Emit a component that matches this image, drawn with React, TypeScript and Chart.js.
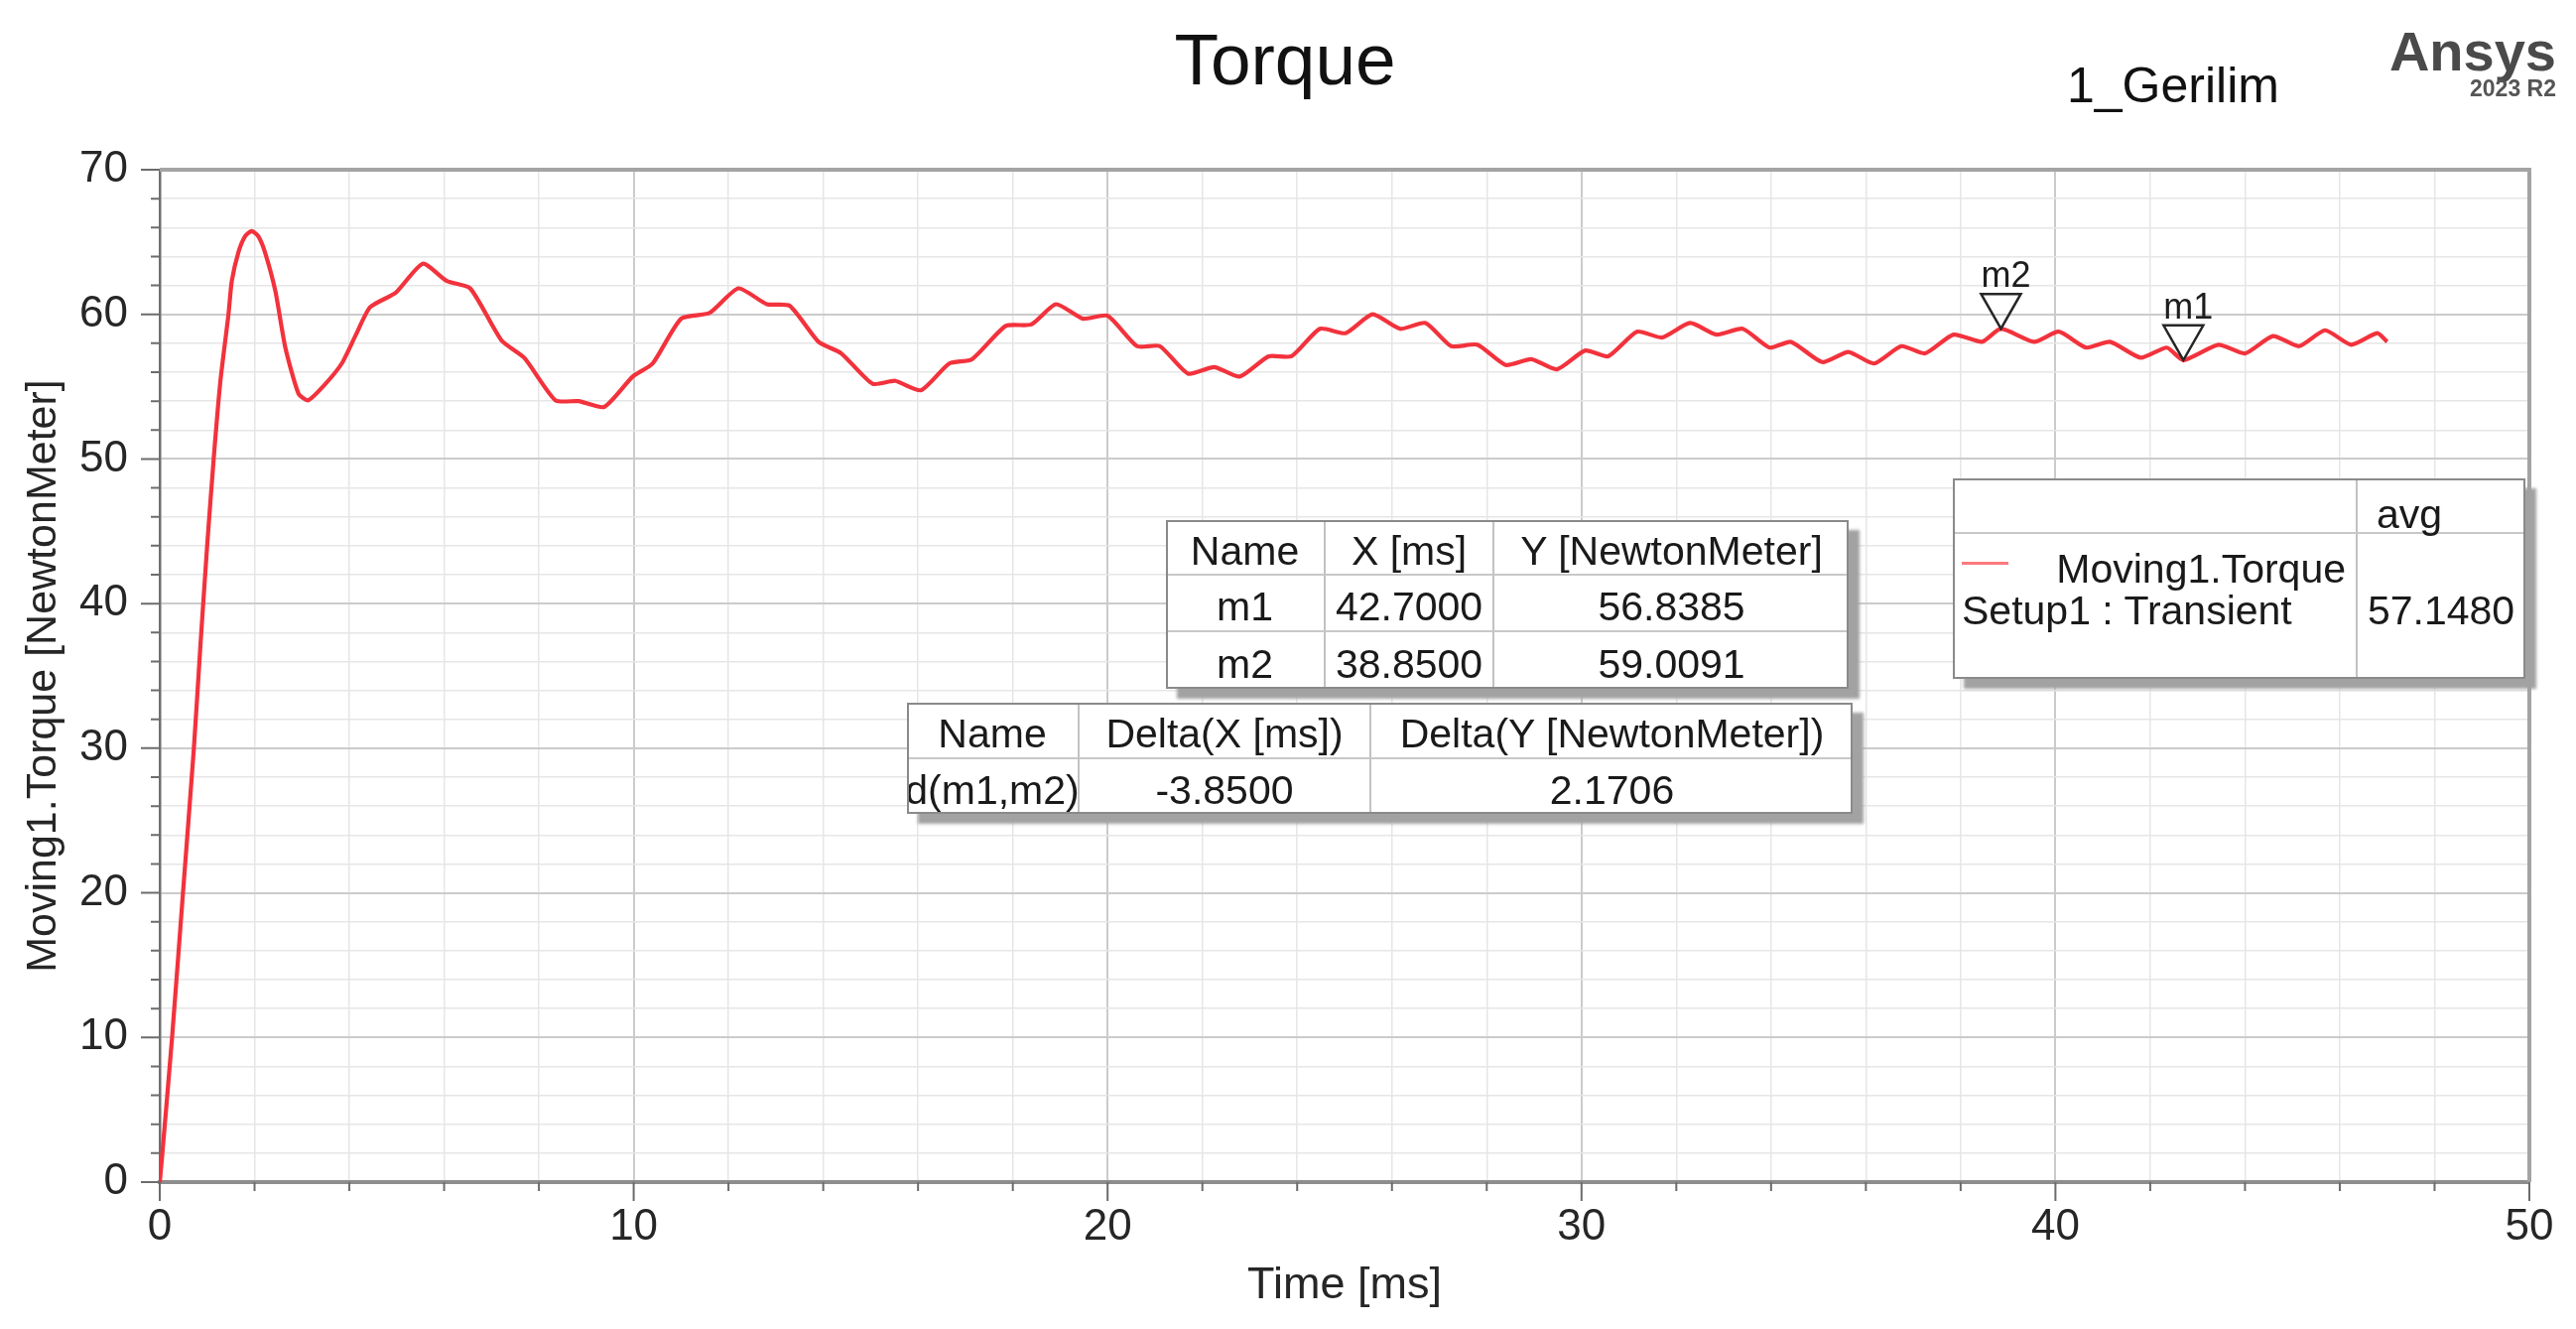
import React, { useEffect, useRef } from 'react';
import { Chart, registerables } from 'chart.js';

Chart.register(...registerables);

const FONT = '"Liberation Sans", Arial, Helvetica, sans-serif';

// ---- data ----
const timeMs = [
  0, 0.05, 0.26, 0.49, 0.72, 0.86, 1.0, 1.14, 1.28, 1.45, 1.52, 1.66, 1.8, 1.94, 2.08, 2.22, 2.44, 2.65, 2.93,
  3.13, 3.47, 3.84, 4.14, 4.44, 4.98, 5.55, 6.06, 6.55, 7.21, 7.69, 8.35, 8.84, 9.38, 9.98, 10.4, 11.0, 11.6,
  12.21, 12.81, 13.29, 13.9, 14.38, 15.04, 15.52, 16.06, 16.66, 17.14, 17.85, 18.39, 18.91, 19.48, 20.0,
  20.62, 21.1, 21.7, 22.25, 22.79, 23.4, 23.88, 24.48, 25.02, 25.59, 26.17, 26.71, 27.25, 27.8, 28.4, 28.94,
  29.48, 30.08, 30.56, 31.17, 31.7, 32.29, 32.85, 33.4, 33.97, 34.42, 35.08, 35.63, 36.17, 36.75, 37.25,
  37.85, 38.45, 38.85, 39.55, 40.07, 40.65, 41.15, 41.8, 42.35, 42.7, 43.44, 44.0, 44.59, 45.14, 45.69,
  46.24, 46.79, 47.0,
];
const torqueNm = [
  0, 1.8, 10, 20, 30, 37.2, 44.0, 50.1, 55.4, 60.0, 62.3, 64.3, 65.4, 65.75, 65.4, 64.3, 61.6, 57.7, 54.5,
  54.06, 55.1, 56.6, 58.6, 60.5, 61.5, 63.5, 62.3, 61.8, 58.2, 57.0, 54.06, 54.0, 53.6, 55.7, 56.6, 59.7, 60.1,
  61.8, 60.7, 60.6, 58.1, 57.3, 55.2, 55.4, 54.75, 56.6, 56.9, 59.2, 59.3, 60.7, 59.7, 59.9,
  57.8, 57.8, 55.9, 56.35, 55.7, 57.1, 57.1, 59.0, 58.7, 60.0, 59.0, 59.4, 57.8, 57.9, 56.5, 56.9,
  56.2, 57.5, 57.1, 58.8, 58.4, 59.4, 58.6, 59.0, 57.7, 58.1, 56.7, 57.4, 56.6, 57.8, 57.3,
  58.6, 58.1, 59.0091, 58.1, 58.8, 57.7, 58.1, 57.0, 57.7, 56.8385, 57.9, 57.3, 58.5, 57.8, 58.9,
  57.9, 58.7, 58.1,
];

const markerNames = ['m1', 'm2'];
const markerX = [42.7, 38.85];
const markerY = [56.8385, 59.0091];

const xMin = 0;
const xMax = 50;
const xStep = 2;
const yMin = 0;
const yMax = 70;
const yStep = 2;
const labelEvery = 10;

const titleText = 'Torque';
const subtitleText = '1_Gerilim';
const brandText = 'Ansys';
const brandVersion = '2023 R2';
const xTitle = 'Time [ms]';
const yTitle = 'Moving1.Torque [NewtonMeter]';
const seriesName = 'Moving1.Torque';
const seriesSetup = 'Setup1 : Transient';
const seriesAvgHeader = 'avg';
const seriesAvg = '57.1480';

const markerTableHeader = ['Name', 'X [ms]', 'Y [NewtonMeter]'];
const markerTableRows = [
  ['m1', '42.7000', '56.8385'],
  ['m2', '38.8500', '59.0091'],
];
const deltaTableHeader = ['Name', 'Delta(X [ms])', 'Delta(Y [NewtonMeter])'];
const deltaTableRows = [['d(m1,m2)', '-3.8500', '2.1706']];

const LINE_COLOR = '#f2323c';

// ---- helpers ----
const isMajor = (v: number) => Math.abs(v % labelEvery) < 1e-9;

const framePlugin = {
  id: 'frameAndMarkers',
  afterDraw(chart: any) {
    const { ctx, chartArea } = chart;
    const { left, right, top, bottom } = chartArea;
    const xs = chart.scales.x;
    const ys = chart.scales.y;
    ctx.save();
    // top and right frame
    ctx.strokeStyle = '#a4a4a4';
    ctx.lineWidth = 4;
    ctx.beginPath();
    ctx.moveTo(left, top);
    ctx.lineTo(right, top);
    ctx.lineTo(right, bottom);
    ctx.stroke();
    // tick marks (major longer than minor)
    ctx.strokeStyle = '#6c6c6c';
    ctx.lineWidth = 2;
    ctx.beginPath();
    xs.ticks.forEach((t: any) => {
      const px = xs.getPixelForValue(t.value);
      const len = isMajor(t.value) ? 19 : 9;
      ctx.moveTo(px, bottom);
      ctx.lineTo(px, bottom + len);
    });
    ys.ticks.forEach((t: any) => {
      const py = ys.getPixelForValue(t.value);
      const len = isMajor(t.value) ? 19 : 9;
      ctx.moveTo(left, py);
      ctx.lineTo(left - len, py);
    });
    ctx.stroke();
    // markers
    markerNames.forEach((name, i) => {
      const px = xs.getPixelForValue(markerX[i]);
      const py = ys.getPixelForValue(markerY[i]);
      const h = 35;
      const hw = 20;
      ctx.strokeStyle = '#262626';
      ctx.lineWidth = 2.5;
      ctx.beginPath();
      ctx.moveTo(px, py);
      ctx.lineTo(px - hw, py - h);
      ctx.lineTo(px + hw, py - h);
      ctx.closePath();
      ctx.stroke();
      ctx.fillStyle = '#1e1e1e';
      ctx.font = `36px ${FONT}`;
      ctx.textAlign = 'left';
      ctx.textBaseline = 'alphabetic';
      ctx.fillText(name, px - hw, py - h - 7);
    });
    ctx.restore();
  },
};

type TxtProps = {
  x: number;
  y: number;
  size: number;
  align?: 'left' | 'center' | 'right';
  bold?: boolean;
  color?: string;
  children: React.ReactNode;
};

function Txt({ x, y, size, align = 'left', bold, color = '#1a1a1a', children }: TxtProps) {
  const tx = align === 'center' ? '-50%' : align === 'right' ? '-100%' : '0';
  return (
    <div
      style={{
        position: 'absolute',
        left: x,
        top: y - size / 2,
        fontSize: size,
        lineHeight: `${size}px`,
        fontFamily: FONT,
        fontWeight: bold ? 700 : 400,
        color,
        whiteSpace: 'nowrap',
        transform: `translateX(${tx})`,
      }}
    >
      {children}
    </div>
  );
}

type TableProps = {
  left: number;
  top: number;
  colW: number[];
  rowH: number[];
  rows: React.ReactNode[][];
  fontSize?: number;
  textShift?: number;
};

function BoxTable({ left, top, colW, rowH, rows, fontSize = 41, textShift = 8 }: TableProps) {
  const W = colW.reduce((a, b) => a + b, 0);
  const H = rowH.reduce((a, b) => a + b, 0);
  const cells: React.ReactNode[] = [];
  let yy = 0;
  rows.forEach((row, r) => {
    let xx = 0;
    row.forEach((cell, c) => {
      cells.push(
        <div
          key={`${r}-${c}`}
          style={{
            position: 'absolute',
            left: xx,
            top: yy,
            width: colW[c],
            height: rowH[r],
            boxSizing: 'border-box',
            borderRight: c < row.length - 1 ? '2px solid #c2c2c2' : 'none',
            borderBottom: r < rows.length - 1 ? '2px solid #c8c8c8' : 'none',
            display: 'flex',
            alignItems: 'center',
            justifyContent: 'center',
            paddingTop: textShift,
            fontFamily: FONT,
            fontSize,
            color: '#1a1a1a',
            whiteSpace: 'nowrap',
          }}
        >
          {cell}
        </div>
      );
      xx += colW[c];
    });
    yy += rowH[r];
  });
  return (
    <div
      style={{
        position: 'absolute',
        left,
        top,
        width: W,
        height: H,
        background: '#ffffff',
        boxShadow: '11px 10px 3px #a2a2a2',
      }}
    >
      {cells}
      <div
        style={{
          position: 'absolute',
          inset: 0,
          border: '2px solid #8a8a8a',
          boxSizing: 'border-box',
          pointerEvents: 'none',
        }}
      />
    </div>
  );
}

export default function App() {
  const canvasRef = useRef<HTMLCanvasElement | null>(null);

  useEffect(() => {
    document.body.style.margin = '0';
    document.body.style.overflow = 'hidden';
    const canvas = canvasRef.current;
    if (!canvas) return;
    const points = timeMs.map((t, i) => ({ x: t, y: torqueNm[i] }));
    const chart = new Chart(canvas, {
      type: 'line',
      data: {
        datasets: [
          {
            label: seriesName,
            data: points,
            borderColor: LINE_COLOR,
            borderWidth: 4.2,
            pointRadius: 0,
            tension: 0.2,
            fill: false,
          },
        ],
      },
      options: {
        animation: false,
        responsive: false,
        devicePixelRatio: 1,
        parsing: false as any,
        layout: { padding: { top: 171, right: 47, left: 0, bottom: 0 } },
        plugins: {
          legend: { display: false },
          tooltip: { enabled: false },
          title: { display: false },
        },
        scales: {
          x: {
            type: 'linear',
            min: xMin,
            max: xMax,
            afterFit: (s: any) => {
              s.height = 148;
            },
            ticks: {
              stepSize: xStep,
              autoSkip: false,
              maxRotation: 0,
              minRotation: 0,
              padding: 19,
              color: '#262626',
              font: { family: FONT, size: 44 },
              callback: (v: any) => (isMajor(Number(v)) ? String(v) : ''),
            },
            grid: {
              drawTicks: false,
              color: (c: any) => (c.tick && isMajor(c.tick.value) ? '#cbcbcb' : '#e6e6e6'),
              lineWidth: (c: any) => (c.tick && isMajor(c.tick.value) ? 2 : 1.5),
            },
            border: { display: true, color: '#8d8d8d', width: 4 },
            title: {
              display: true,
              text: xTitle,
              color: '#262626',
              font: { family: FONT, size: 45 },
              padding: { top: 0, bottom: 16 },
            },
          },
          y: {
            type: 'linear',
            min: yMin,
            max: yMax,
            afterFit: (s: any) => {
              s.width = 161;
            },
            ticks: {
              stepSize: yStep,
              autoSkip: false,
              padding: 32,
              color: '#262626',
              font: { family: FONT, size: 44 },
              callback: (v: any) => (isMajor(Number(v)) ? String(v) : ''),
            },
            grid: {
              drawTicks: false,
              color: (c: any) => (c.tick && isMajor(c.tick.value) ? '#cbcbcb' : '#e6e6e6'),
              lineWidth: (c: any) => (c.tick && isMajor(c.tick.value) ? 2 : 1.5),
            },
            border: { display: true, color: '#6f6f6f', width: 2.5 },
            title: {
              display: true,
              text: yTitle,
              color: '#262626',
              font: { family: FONT, size: 43 },
              padding: { top: 18, bottom: 0 },
            },
          },
        },
      },
      plugins: [framePlugin],
    });
    return () => chart.destroy();
  }, []);

  return (
    <div style={{ position: 'relative', width: 2596, height: 1339, overflow: 'hidden', background: '#fff' }}>
      <canvas ref={canvasRef} width={2596} height={1339} style={{ position: 'absolute', left: 0, top: 0 }} />

      <Txt x={1295} y={59} size={73} align="center" color="#111">
        {titleText}
      </Txt>
      <Txt x={2083} y={86} size={50} color="#111">
        {subtitleText}
      </Txt>
      <Txt x={2576} y={52} size={56} align="right" bold color="#4a4a4a">
        {brandText}
      </Txt>
      <Txt x={2576} y={89} size={23} align="right" bold color="#555">
        {brandVersion}
      </Txt>

      <BoxTable
        left={1175}
        top={524}
        colW={[161, 170, 357]}
        rowH={[56, 57, 57]}
        rows={[markerTableHeader, ...markerTableRows]}
      />
      <BoxTable
        left={914}
        top={708}
        colW={[174, 294, 485]}
        rowH={[57, 55]}
        rows={[deltaTableHeader, ...deltaTableRows]}
      />

      <div style={{ position: 'absolute', left: 1968, top: 482, width: 577, height: 202 }}>
        <BoxTable
          left={0}
          top={0}
          colW={[408, 169]}
          rowH={[56, 146]}
          rows={[
            ['', ''],
            ['', ''],
          ]}
        />
        <Txt x={460} y={36} size={41} align="center">
          {seriesAvgHeader}
        </Txt>
        <div style={{ position: 'absolute', left: 9, top: 84, width: 47, height: 3, background: '#ff7a7f' }} />
        <Txt x={396} y={91} size={41} align="right">
          {seriesName}
        </Txt>
        <Txt x={9} y={133} size={41}>
          {seriesSetup}
        </Txt>
        <Txt x={492} y={133} size={41} align="center">
          {seriesAvg}
        </Txt>
      </div>
    </div>
  );
}
